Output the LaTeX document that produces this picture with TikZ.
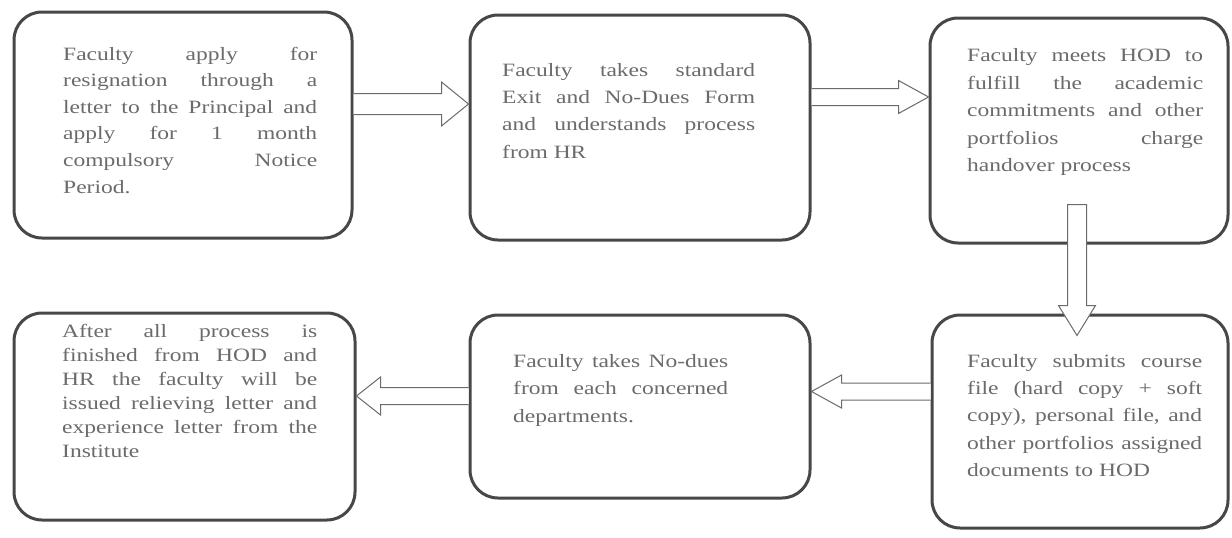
\documentclass[tikz,border=0pt]{standalone}
\usepackage{fontspec}
\setmainfont{Liberation Serif}[FakeStretch=1.25]
\usetikzlibrary{calc}
\newcommand\jl[1]{\makebox[\linewidth][s]{#1}\par}
\newcommand\lastln[1]{#1\par}
\newcommand\harrow[6]{%
  \filldraw[blk] ($(#1)+(0,-#3)$) -- ($(#2)+({-(#6)*(#5)},-#3)$) -- ($(#2)+({-(#6)*(#5)},-#4)$) -- (#2)
    -- ($(#2)+({-(#6)*(#5)},#4)$) -- ($(#2)+({-(#6)*(#5)},#3)$) -- ($(#1)+(0,#3)$);}
\tikzset{
  box/.style={draw=black!72, line width=3pt, rounded corners=28pt, fill=white, inner sep=0pt},
  txt/.style={anchor=base west, inner sep=0pt, text=black!58},
  blk/.style={draw=black!58, line width=1pt, fill=white, line join=miter},
}
\newcommand\tb[3]{\parbox[t]{#1pt}{\fontsize{18.8pt}{#2pt}\selectfont\parindent=0pt\parskip=0pt #3}}
\begin{document}
\begin{tikzpicture}[x=1pt,y=-1pt]
\useasboundingbox (0,0) rectangle (1232,538);
\fill[white] (0,0) rectangle (1232,538);
% boxes
\node[box, minimum width=338pt, minimum height=226pt] (b1) at (183,125) {};
\node[box, minimum width=340pt, minimum height=225pt] (b2) at (640,127.5) {};
\node[box, minimum width=298pt, minimum height=225pt] (b3) at (1079,130.5) {};
\node[box, minimum width=296pt, minimum height=213pt] (b4) at (1080,421.5) {};
\node[box, minimum width=340pt, minimum height=183pt] (b5) at (640,406.5) {};
\node[box, minimum width=341pt, minimum height=207pt] (b6) at (184.5,416.5) {};
% texts
\node[txt] (t1) at (63,60) {\tb{254}{26.6}{\jl{Faculty apply for}\jl{resignation through a}\jl{letter to the Principal and}\jl{apply for 1 month}\jl{compulsory Notice}\lastln{Period.}}};
\node[txt] (t2) at (502,76) {\tb{253}{27.4}{\jl{Faculty takes standard}\jl{Exit and No-Dues Form}\jl{and understands process}\lastln{from HR}}};
\node[txt] (t3) at (967,61.5) {\tb{236}{27.5}{\jl{Faculty meets HOD to}\jl{fulfill the academic}\jl{commitments and other}\jl{portfolios charge}\lastln{handover process}}};
\node[txt] (t4) at (967,367) {\tb{235}{27.4}{\jl{Faculty submits course}\jl{file (hard copy + soft}\jl{copy), personal file, and}\jl{other portfolios assigned}\lastln{documents to HOD}}};
\node[txt] (t5) at (513,367) {\tb{215}{27.5}{\jl{Faculty takes No-dues}\jl{from each concerned}\lastln{departments.}}};
\node[txt] (t6) at (62,337) {\tb{255}{24}{\jl{After all process is}\jl{finished from HOD and}\jl{HR the faculty will be}\jl{issued relieving letter and}\jl{experience letter from the}\lastln{Institute}}};
% arrow end points
\coordinate (a1s) at (b1.east |- 0,104);
\coordinate (a1t) at (b2.west |- 0,104);
\coordinate (a2s) at (b2.east |- 0,97);
\coordinate (a2t) at (b3.west |- 0,97);
\coordinate (a3s) at ($(b3.south -| 1077,0)+(0,-40)$);
\coordinate (a3t) at ($(b4.north -| 1077,0)+(0,22)$);
\coordinate (a4s) at (b4.west |- 0,391.5);
\coordinate (a4t) at (b5.east |- 0,391.5);
\coordinate (a5s) at (b5.west |- 0,396);
\coordinate (a5t) at (b6.east |- 0,396);
% arrows
\harrow{a1s}{a1t}{10.5}{22}{27}{1}
\harrow{a2s}{a2t}{8.5}{16.5}{30}{1}
\harrow{a4s}{a4t}{8.5}{16.5}{30}{-1}
\harrow{a5s}{a5t}{8.5}{19}{24}{-1}
\filldraw[blk] ($(a3s)+(-9.5,0)$) -- ($(a3t)+(-9.5,-30)$) -- ($(a3t)+(-18.5,-30)$) -- (a3t)
  -- ($(a3t)+(18.5,-30)$) -- ($(a3t)+(9.5,-30)$) -- ($(a3s)+(9.5,0)$) -- cycle;
\end{tikzpicture}
\end{document}
